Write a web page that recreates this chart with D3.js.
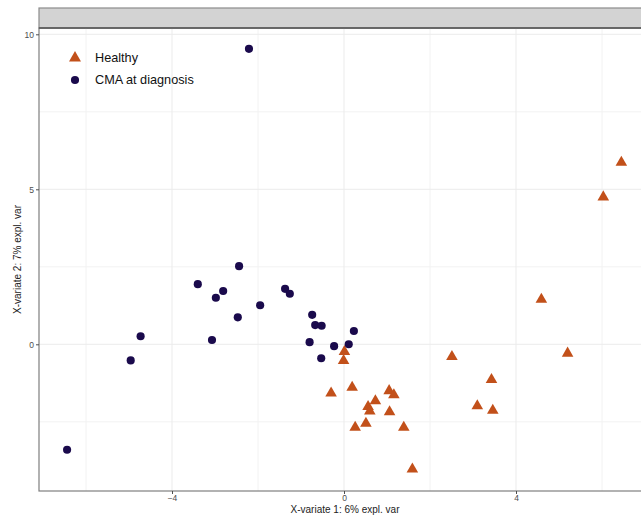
<!DOCTYPE html>
<html>
<head>
<meta charset="utf-8">
<script src="https://cdn.jsdelivr.net/npm/d3@7"></script>
<style>
  body { margin: 0; background: #fff; }
  svg { display: block; font-family: "Liberation Sans", Arial, sans-serif; }
</style>
</head>
<body>
<div id="chart"></div>
<script>
// group labels, in legend order
const groups = ["Healthy", "CMA at diagnosis"];

// Healthy samples (component 1, component 2)
const healthyX = [0.01, -0.01, -0.30, 0.19, 1.05, 1.16, 0.73, 0.56, 0.60, 1.06, 0.51,
                  0.26, 1.39, 1.59, 2.51, 3.43, 3.10, 3.46, 5.20, 4.59, 6.03, 6.45];
const healthyY = [-0.24, -0.53, -1.58, -1.39, -1.50, -1.63, -1.83, -2.01, -2.16, -2.18, -2.55,
                  -2.68, -2.68, -4.03, -0.40, -1.14, -1.99, -2.13, -0.29, 1.45, 4.75, 5.87];

// CMA at diagnosis samples
const cmaX = [-2.21, -3.40, -2.44, -2.98, -2.81, -1.95, -2.47, -3.07, -4.73, -4.96, -6.44,
              -1.37, -1.26, -0.74, -0.67, -0.52, -0.80, -0.53, -0.23, 0.11, 0.23];
const cmaY = [9.53, 1.94, 2.52, 1.50, 1.72, 1.26, 0.87, 0.14, 0.26, -0.52, -3.40,
              1.79, 1.63, 0.95, 0.62, 0.60, 0.07, -0.45, -0.06, 0.00, 0.43];

const xTicks = [-4, 0, 4];
const yTicks = [0, 5, 10];
const xMinor = [-6, -2, 2, 6];
const yMinor = [-2.5, 2.5, 7.5];

const width = 641, height = 515;
const panel = { left: 39, right: 651, top: 28, bottom: 491 };

const x = d3.scaleLinear().domain([0, 4]).range([344, 516]);
const y = d3.scaleLinear().domain([0, 5]).range([344.3, 189.3]);

const colour = d3.scaleOrdinal().domain(groups).range(["#c2501a", "#1a0a4c"]);
const shape = d3.scaleOrdinal().domain(groups).range([d3.symbolTriangle, d3.symbolCircle]);

const points = [
  ...healthyX.map((v, i) => ({ group: groups[0], x: v, y: healthyY[i] })),
  ...cmaX.map((v, i) => ({ group: groups[1], x: v, y: cmaY[i] }))
];

const svg = d3.select("#chart").append("svg")
  .attr("width", width)
  .attr("height", height);

// strip at the top
svg.append("rect")
  .attr("x", panel.left).attr("y", 8)
  .attr("width", panel.right - panel.left).attr("height", panel.top - 8)
  .attr("fill", "#d3d3d3")
  .attr("stroke", "#8c8c8c").attr("stroke-width", 1.2);

// gridlines
const grid = svg.append("g");
grid.selectAll(".minx").data(xMinor).join("line")
  .attr("x1", d => x(d)).attr("x2", d => x(d))
  .attr("y1", panel.top).attr("y2", panel.bottom)
  .attr("stroke", "#f2f2f2").attr("stroke-width", 1);
grid.selectAll(".miny").data(yMinor).join("line")
  .attr("x1", panel.left).attr("x2", panel.right)
  .attr("y1", d => y(d)).attr("y2", d => y(d))
  .attr("stroke", "#f2f2f2").attr("stroke-width", 1);
grid.selectAll(".majx").data(xTicks).join("line")
  .attr("x1", d => x(d)).attr("x2", d => x(d))
  .attr("y1", panel.top).attr("y2", panel.bottom)
  .attr("stroke", "#ebebeb").attr("stroke-width", 1);
grid.selectAll(".majy").data(yTicks).join("line")
  .attr("x1", panel.left).attr("x2", panel.right)
  .attr("y1", d => y(d)).attr("y2", d => y(d))
  .attr("stroke", "#ebebeb").attr("stroke-width", 1);

// points
svg.append("g").selectAll("path").data(points).join("path")
  .attr("transform", d => `translate(${x(d.x)},${y(d.y)})`)
  .attr("d", d => d3.symbol().type(shape(d.group)).size(d.group === groups[0] ? 58 : 52)())
  .attr("fill", d => colour(d.group));

// panel border
svg.append("rect")
  .attr("x", panel.left).attr("y", panel.top)
  .attr("width", panel.right - panel.left).attr("height", panel.bottom - panel.top)
  .attr("fill", "none")
  .attr("stroke", "#7f7f7f").attr("stroke-width", 1.2);
svg.append("line")
  .attr("x1", panel.left).attr("x2", panel.right)
  .attr("y1", panel.top).attr("y2", panel.top)
  .attr("stroke", "#595959").attr("stroke-width", 1.4);

// axes
const fmt = d3.format("d");
const xAxis = svg.append("g")
  .attr("transform", `translate(0,${panel.bottom})`)
  .call(d3.axisBottom(x).tickValues(xTicks).tickFormat(fmt).tickSize(3).tickPadding(1));
const yAxis = svg.append("g")
  .attr("transform", `translate(${panel.left},0)`)
  .call(d3.axisLeft(y).tickValues(yTicks).tickFormat(fmt).tickSize(3).tickPadding(2));
[xAxis, yAxis].forEach(a => {
  a.select(".domain").remove();
  a.selectAll(".tick line").attr("stroke", "#4d4d4d");
  a.selectAll(".tick text").attr("fill", "#4d4d4d").style("font-size", "8.5px")
    .style("font-family", "Liberation Sans, Arial, sans-serif");
});

// axis titles
svg.append("text")
  .attr("x", (panel.left + panel.right) / 2).attr("y", 513)
  .attr("text-anchor", "middle")
  .style("font-size", "10px").attr("fill", "#222")
  .text("X-variate 1: 6% expl. var");
svg.append("text")
  .attr("transform", `translate(21,${(panel.top + panel.bottom) / 2}) rotate(-90)`)
  .attr("text-anchor", "middle")
  .style("font-size", "10px").attr("fill", "#222")
  .text("X-variate 2: 7% expl. var");

// legend
const legend = svg.append("g").selectAll("g").data(groups).join("g")
  .attr("transform", (d, i) => `translate(75,${58 + i * 22})`);
legend.append("path")
  .attr("d", d => d3.symbol().type(shape(d)).size(d === groups[0] ? 62 : 52)())
  .attr("fill", d => colour(d));
legend.append("text")
  .attr("x", 20).attr("dy", "0.35em")
  .style("font-size", "12.7px").attr("fill", "#111")
  .text(d => d);
</script>
</body>
</html>
